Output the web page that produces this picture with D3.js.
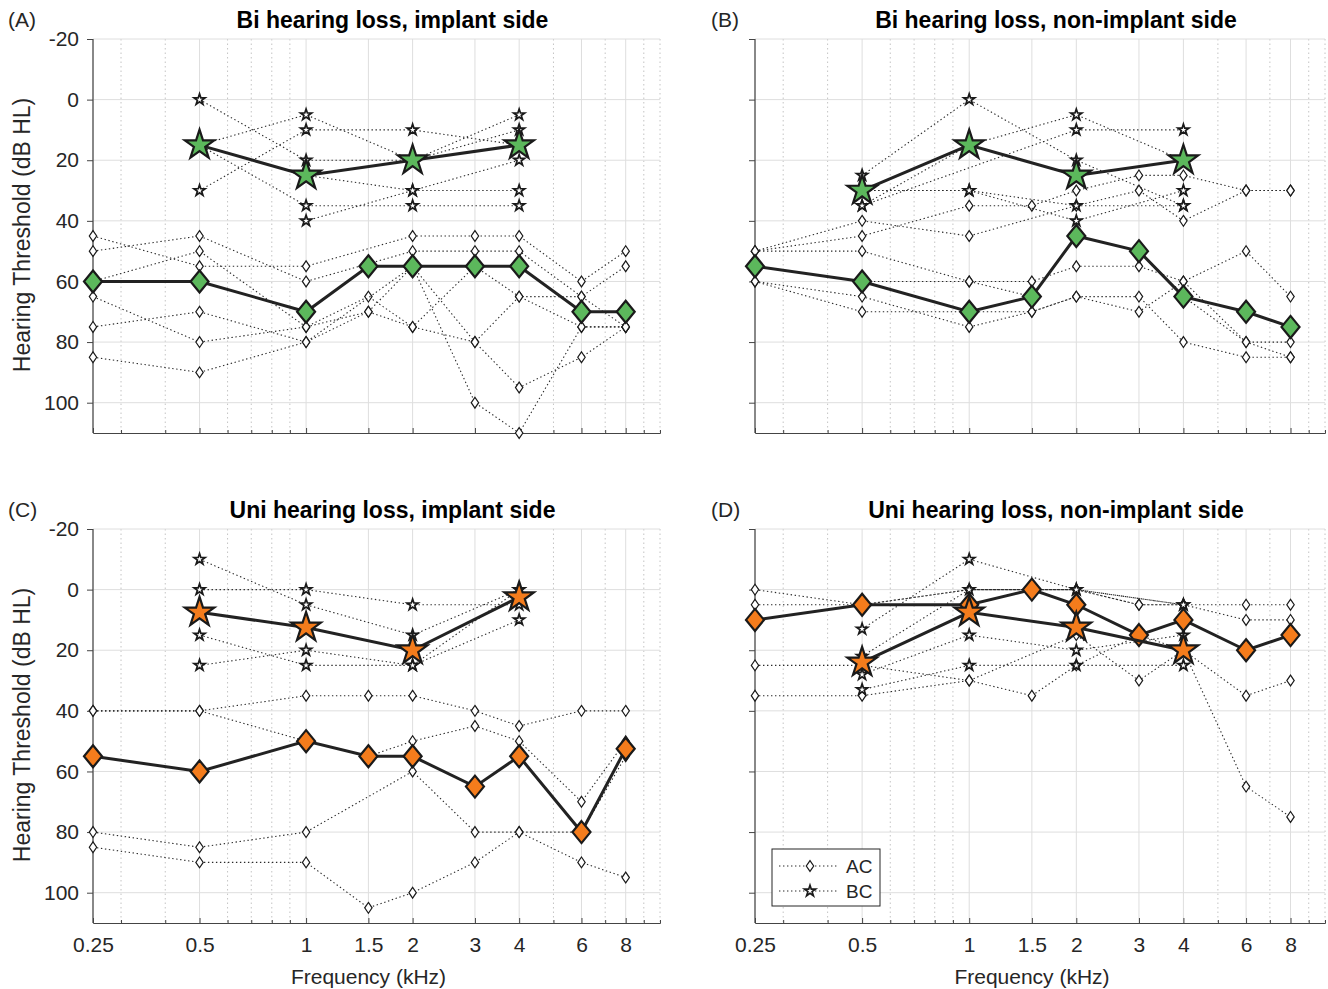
<!DOCTYPE html>
<html>
<head>
<meta charset="utf-8">
<script src="https://cdn.jsdelivr.net/npm/d3@7"></script>
<style>
  body { margin: 0; background: #fff; }
  text { font-family: "Liberation Sans", Arial, sans-serif; }
</style>
</head>
<body>
<script>
// frequencies (kHz) and ticks
const FREQS = [0.25, 0.5, 1, 1.5, 2, 3, 4, 6, 8];
const BC_FREQS = [0.5, 1, 2, 4];
const X_TICK_LABELS = ["0.25", "0.5", "1", "1.5", "2", "3", "4", "6", "8"];
const X_MINOR = [0.3, 0.4, 0.6, 0.7, 0.8, 0.9, 5, 7, 9, 10];
const Y_TICKS = [-20, 0, 20, 40, 60, 80, 100];

// (A) Bi hearing loss, implant side
const A_AC = [
    [45, 55, 55, null, 45, 45, 45, 60, 50],
    [50, 45, 60, null, 50, 50, 50, 65, 55],
    [60, 50, 75, 65, 75, 55, 65, 65, 75],
    [65, 80, 75, 70, 55, 80, 95, 85, 75],
    [75, 70, 80, null, 55, 100, 110, 75, 75],
    [85, 90, 80, 70, 75, 80, 65, 75, 75]
];
const A_BC = [
    [0, 20, 20, 5],
    [15, 5, 20, 10],
    [30, 10, 10, 15],
    [15, 35, 35, 35],
    [null, 40, 30, 20],
    [15, 25, 30, 30]
];
const A_AC_MEAN = [60, 60, 70, 55, 55, 55, 55, 70, 70];
const A_BC_MEAN = [15, 25, 20, 15];

// (B) Bi hearing loss, non-implant side
const B_AC = [
    [50, 40, 45, null, 35, 30, 40, 30, 30],
    [50, 45, 35, 35, 30, 25, 25, 30, 30],
    [50, 50, 60, 60, 55, 55, 60, 50, 65],
    [60, 65, 75, 70, 65, 65, 80, 85, 85],
    [60, 70, 70, 70, 65, 70, 60, 80, 80],
    [55, 60, 60, 65, 45, 50, 65, 80, 85]
];
const B_BC = [
    [25, 0, 20, 35],
    [30, 30, 40, 30],
    [35, 15, 5, 20],
    [35, null, 10, 10],
    [30, 30, 35, 35]
];
const B_AC_MEAN = [55, 60, 70, 65, 45, 50, 65, 70, 75];
const B_BC_MEAN = [30, 15, 25, 20];

// (C) Uni hearing loss, implant side
const C_AC = [
    [40, 40, 35, 35, 35, 40, 45, 40, 40],
    [40, 40, 50, 55, 50, 45, 50, 70, 50],
    [80, 85, 80, null, 60, 80, 80, 80, 55],
    [85, 90, 90, 105, 100, 90, 80, 90, 95]
];
const C_BC = [
    [-10, 5, 15, 0],
    [0, 0, 5, 5],
    [15, 25, 25, 10],
    [25, 20, 25, 0]
];
const C_AC_MEAN = [55, 60, 50, 55, 55, 65, 55, 80, 52.5];
const C_BC_MEAN = [7.5, 12.5, 20, 2.5];

// (D) Uni hearing loss, non-implant side
const D_AC = [
    [0, 5, 0, 0, 0, 5, 5, 5, 5],
    [5, 5, 0, null, 0, 5, 5, 10, 10],
    [25, 25, 30, 35, 25, 15, 20, 35, 30],
    [35, 35, 30, null, 15, 30, 20, 65, 75]
];
const D_BC = [
    [13, -10, 0, 5],
    [22, 0, 0, 5],
    [28, 15, 20, 15],
    [33, 25, 25, 25]
];
const D_AC_MEAN = [10, 5, 5, 0, 5, 15, 10, 20, 15];
const D_BC_MEAN = [24, 7.5, 12.5, 20];

const TITLES = [
    "Bi hearing loss, implant side",
    "Bi hearing loss, non-implant side",
    "Uni hearing loss, implant side",
    "Uni hearing loss, non-implant side"
];
const LETTERS = ["(A)", "(B)", "(C)", "(D)"];

const GREEN = "#5cb85c";
const ORANGE = "#f47c1c";
const INK = "#262626";

const panels = [
    { ac: A_AC, bc: A_BC, acMean: A_AC_MEAN, bcMean: A_BC_MEAN, color: GREEN, col: 0, row: 0 },
    { ac: B_AC, bc: B_BC, acMean: B_AC_MEAN, bcMean: B_BC_MEAN, color: GREEN, col: 1, row: 0 },
    { ac: C_AC, bc: C_BC, acMean: C_AC_MEAN, bcMean: C_BC_MEAN, color: ORANGE, col: 0, row: 1 },
    { ac: D_AC, bc: D_BC, acMean: D_AC_MEAN, bcMean: D_BC_MEAN, color: ORANGE, col: 1, row: 1 }
];

const width = 1328, height = 989;
const colX = [[93, 660], [755, 1325]];
const rowY = [[39, 433], [529, 923]];

const svg = d3.select("body").append("svg")
    .attr("width", width)
    .attr("height", height);

function starPath(r) {
    const ri = r * 0.382;
    const pts = [];
    for (let i = 0; i < 10; i++) {
        const a = -Math.PI / 2 + i * Math.PI / 5;
        const rr = i % 2 === 0 ? r : ri;
        pts.push([rr * Math.cos(a), rr * Math.sin(a)]);
    }
    return "M" + pts.map(p => p[0].toFixed(2) + "," + p[1].toFixed(2)).join("L") + "Z";
}

function diamondPath(w, h) {
    return `M0,${-h}L${w},0L0,${h}L${-w},0Z`;
}

const smallDiamond = diamondPath(3.7, 5.4);
const bigDiamond = diamondPath(9, 11);
const smallStar = starPath(5.8);
const bigStar = starPath(15.5);

function toPoints(freqs, vals) {
    return freqs.map((f, i) => ({ f: f, v: vals[i] })).filter(d => d.v !== null);
}

panels.forEach((p, pi) => {
    const [x0, x1] = colX[p.col];
    const [y0, y1] = rowY[p.row];

    const x = d3.scaleLog().domain([0.25, 10]).range([x0, x1]);
    const y = d3.scaleLinear().domain([-20, 110]).range([y0, y1]);

    const g = svg.append("g");

    // grid
    g.append("g").selectAll("line")
        .data(X_MINOR)
        .join("line")
        .attr("x1", d => x(d)).attr("x2", d => x(d))
        .attr("y1", y0).attr("y2", y1)
        .attr("stroke", "#c4c4c4")
        .attr("stroke-width", 1)
        .attr("stroke-dasharray", "1.5,3");

    g.append("g").selectAll("line")
        .data(FREQS)
        .join("line")
        .attr("x1", d => x(d)).attr("x2", d => x(d))
        .attr("y1", y0).attr("y2", y1)
        .attr("stroke", "#dedede")
        .attr("stroke-width", 1);

    g.append("g").selectAll("line")
        .data(Y_TICKS)
        .join("line")
        .attr("x1", x0).attr("x2", x1)
        .attr("y1", d => y(d)).attr("y2", d => y(d))
        .attr("stroke", "#dedede")
        .attr("stroke-width", 1);

    // axes
    g.append("g")
        .attr("transform", `translate(0,${y1})`)
        .call(d3.axisBottom(x)
            .tickValues(FREQS)
            .tickFormat((d, i) => p.row === 1 ? X_TICK_LABELS[i] : "")
            .tickSizeInner(-5)
            .tickSizeOuter(0)
            .tickPadding(14));
    g.append("g")
        .attr("transform", `translate(0,${y1})`)
        .call(d3.axisBottom(x)
            .tickValues(X_MINOR)
            .tickFormat("")
            .tickSizeInner(-3)
            .tickSizeOuter(0));

    const yAxis = g.append("g")
        .attr("transform", `translate(${x0},0)`)
        .call(d3.axisLeft(y)
            .tickValues(Y_TICKS)
            .tickFormat(d => p.col === 0 ? d : "")
            .tickSizeInner(6)
            .tickSizeOuter(0)
            .tickPadding(8));

    g.selectAll(".domain").attr("stroke", "#444").attr("stroke-width", 1.2);
    g.selectAll(".tick line").attr("stroke", "#444");
    g.selectAll(".tick text")
        .attr("fill", INK)
        .style("font-size", "21px")
        .style("font-family", '"Liberation Sans", Arial, sans-serif');
    yAxis.select(".domain").attr("d", `M0,${y0}V${y1}`);

    // individual subjects, dotted
    const line = d3.line().x(d => x(d.f)).y(d => y(d.v));

    function drawSubjects(rows, freqs, marker, sw) {
        rows.forEach(vals => {
            const pts = toPoints(freqs, vals);
            g.append("path")
                .datum(pts)
                .attr("d", line)
                .attr("fill", "none")
                .attr("stroke", "#2a2a2a")
                .attr("stroke-width", 1.1)
                .attr("stroke-dasharray", "1.4,2.6");
            g.append("g").selectAll("path")
                .data(pts)
                .join("path")
                .attr("transform", d => `translate(${x(d.f)},${y(d.v)})`)
                .attr("d", marker)
                .attr("fill", "#fff")
                .attr("stroke", "#1a1a1a")
                .attr("stroke-width", sw);
        });
    }
    drawSubjects(p.ac, FREQS, smallDiamond, 1.2);
    drawSubjects(p.bc, BC_FREQS, smallStar, 1.7);

    function drawMean(vals, freqs, marker) {
        const pts = toPoints(freqs, vals);
        g.append("path")
            .datum(pts)
            .attr("d", line)
            .attr("fill", "none")
            .attr("stroke", "#222")
            .attr("stroke-width", 3);
        g.append("g").selectAll("path")
            .data(pts)
            .join("path")
            .attr("transform", d => `translate(${x(d.f)},${y(d.v)})`)
            .attr("d", marker)
            .attr("fill", p.color)
            .attr("stroke", "#1a1a1a")
            .attr("stroke-width", 2.2)
            .attr("stroke-linejoin", "miter");
    }
    drawMean(p.acMean, FREQS, bigDiamond);
    drawMean(p.bcMean, BC_FREQS, bigStar);

    // titles and labels
    svg.append("text")
        .attr("x", (x0 + x1) / 2 + 16)
        .attr("y", y0 - 11)
        .attr("text-anchor", "middle")
        .attr("fill", "#000")
        .style("font-size", "23px")
        .style("font-weight", "bold")
        .text(TITLES[pi]);

    svg.append("text")
        .attr("x", p.col === 0 ? 8 : 711)
        .attr("y", y0 - 12)
        .attr("fill", INK)
        .style("font-size", "21px")
        .text(LETTERS[pi]);

    if (p.col === 0) {
        svg.append("text")
            .attr("transform", `translate(30,${(y0 + y1) / 2 - 1}) rotate(-90)`)
            .attr("text-anchor", "middle")
            .attr("fill", INK)
            .style("font-size", "23px")
            .text("Hearing Threshold (dB HL)");
    }
    if (p.row === 1) {
        svg.append("text")
            .attr("x", (x0 + x1) / 2 - 8)
            .attr("y", 984)
            .attr("text-anchor", "middle")
            .attr("fill", INK)
            .style("font-size", "21px")
            .text("Frequency (kHz)");
    }

    // legend in the last panel
    if (pi === 3) {
        const lg = svg.append("g").attr("transform", "translate(772,849)");
        lg.append("rect")
            .attr("width", 108).attr("height", 57)
            .attr("fill", "#fff")
            .attr("stroke", INK)
            .attr("stroke-width", 1);
        const items = [
            { label: "AC", marker: smallDiamond, sw: 1.2, yy: 17 },
            { label: "BC", marker: smallStar, sw: 1.7, yy: 42 }
        ];
        items.forEach(it => {
            lg.append("line")
                .attr("x1", 7).attr("x2", 66)
                .attr("y1", it.yy).attr("y2", it.yy)
                .attr("stroke", "#2a2a2a")
                .attr("stroke-width", 1.1)
                .attr("stroke-dasharray", "1.4,2.6");
            lg.append("path")
                .attr("transform", `translate(38,${it.yy})`)
                .attr("d", it.marker)
                .attr("fill", "#fff")
                .attr("stroke", "#1a1a1a")
                .attr("stroke-width", it.sw);
            lg.append("text")
                .attr("x", 74).attr("y", it.yy + 7)
                .attr("fill", INK)
                .style("font-size", "19px")
                .text(it.label);
        });
    }
});
</script>
</body>
</html>
